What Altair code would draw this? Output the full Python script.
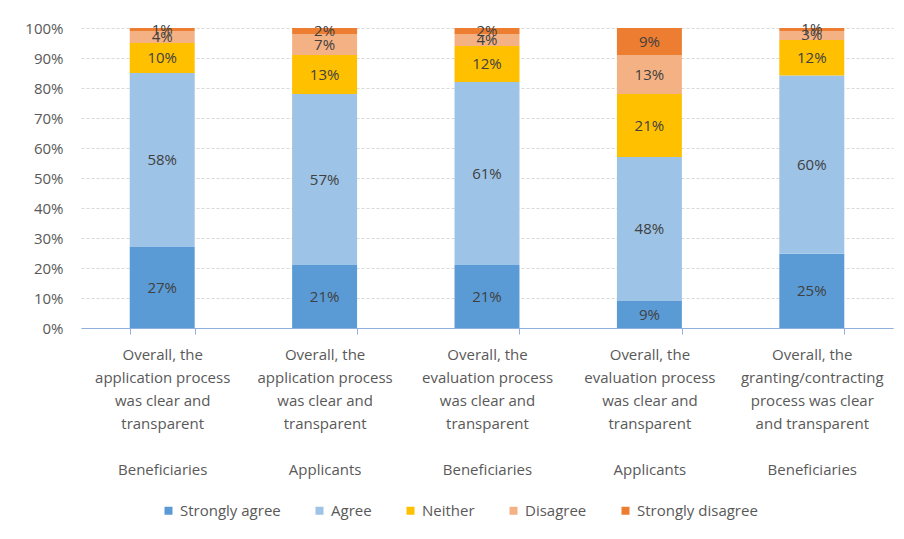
import altair as alt
import pandas as pd

series = ["Strongly agree", "Agree", "Neither", "Disagree", "Strongly disagree"]
colors = ["#5B9BD5", "#9DC3E6", "#FFC000", "#F4B183", "#ED7D31"]

q_lines = [
    ["Overall, the", "application process", "was clear and", "transparent"],
    ["Overall, the", "application process", "was clear and", "transparent"],
    ["Overall, the", "evaluation process", "was clear and", "transparent"],
    ["Overall, the", "evaluation process", "was clear and", "transparent"],
    ["Overall, the", "granting/contracting", "process was clear", "and transparent"],
]
groups = ["Beneficiaries", "Applicants", "Beneficiaries", "Applicants", "Beneficiaries"]

strongly_agree = [27, 21, 21, 9, 25]
agree = [58, 57, 61, 48, 60]
neither = [10, 13, 12, 21, 12]
disagree = [4, 7, 4, 13, 3]
strongly_disagree = [1, 2, 2, 9, 1]

y_ticks = [0, 0.1, 0.2, 0.3, 0.4, 0.5, 0.6, 0.7, 0.8, 0.9, 1.0]

values_by_series = [strongly_agree, agree, neither, disagree, strongly_disagree]
cats = ["|".join(q + ["\u200b", g]) for q, g in zip(q_lines, groups)]

rows = []
for i, c in enumerate(cats):
    for j, s in enumerate(series):
        rows.append({"cat": c, "series": s, "order": j, "value": values_by_series[j][i]})
df = pd.DataFrame(rows)

FONT = "Open Sans"
LABEL_COLOR = "#595959"

base = alt.Chart(df).transform_stack(
    stack="value",
    groupby=["cat"],
    sort=[alt.SortField("order", order="ascending")],
    offset="normalize",
    as_=["y0", "y1"],
).transform_calculate(
    mid="(datum.y0 + datum.y1) / 2",
    lbl="datum.value + '%'",
)

x_scale = alt.Scale(paddingInner=0.6, paddingOuter=0.3)
y_scale = alt.Scale(domain=[0, 1], nice=False)

x_axis = alt.Axis(
    title=None,
    labelExpr="split(datum.label, '|')",
    labelAngle=0,
    tickBand="extent",
    domainColor="#8FB0DC",
    tickColor="#8FB0DC",
    tickSize=6,
    labelPadding=13,
    labelLineHeight=23,
    labelFontSize=15,
    labelFont=FONT,
    labelColor=LABEL_COLOR,
    labelLimit=0,
    labelOverlap=False,
    grid=False,
)

y_axis = alt.Axis(
    title=None,
    format=".0%",
    values=y_ticks,
    domain=False,
    ticks=False,
    gridColor="#D9D9D9",
    gridDash=[3, 2],
    labelFontSize=15,
    labelFont=FONT,
    labelColor=LABEL_COLOR,
    labelPadding=18,
    labelOverlap=False,
    minExtent=75,
)

bars = base.mark_bar().encode(
    x=alt.X("cat:N", sort=cats, scale=x_scale, axis=x_axis),
    y=alt.Y("y0:Q", scale=y_scale, axis=y_axis),
    y2="y1:Q",
    color=alt.Color(
        "series:N",
        sort=series,
        scale=alt.Scale(domain=series, range=colors),
        legend=alt.Legend(
            orient="none",
            legendX=80,
            legendY=475,
            direction="horizontal",
            title=None,
            symbolType="square",
            symbolSize=64,
            symbolStrokeWidth=0,
            labelFontSize=15,
            labelFont=FONT,
            labelColor=LABEL_COLOR,
            columnPadding=31,
            padding=0,
        ),
    ),
)

texts = base.mark_text(fontSize=15, font=FONT, color="#404040").encode(
    x=alt.X("cat:N", sort=cats, scale=x_scale, axis=x_axis),
    y=alt.Y("mid:Q", scale=y_scale, axis=y_axis),
    text="lbl:N",
)

chart = alt.layer(bars, texts).properties(
    width=812,
    height=300,
    padding={"left": 81, "top": 28, "right": 11, "bottom": 211},
    autosize=alt.AutoSizeParams(type="none"),
    background="white",
).configure_view(stroke=None)

chart.save("out.html", embed_options={"renderer": "svg", "actions": False})
